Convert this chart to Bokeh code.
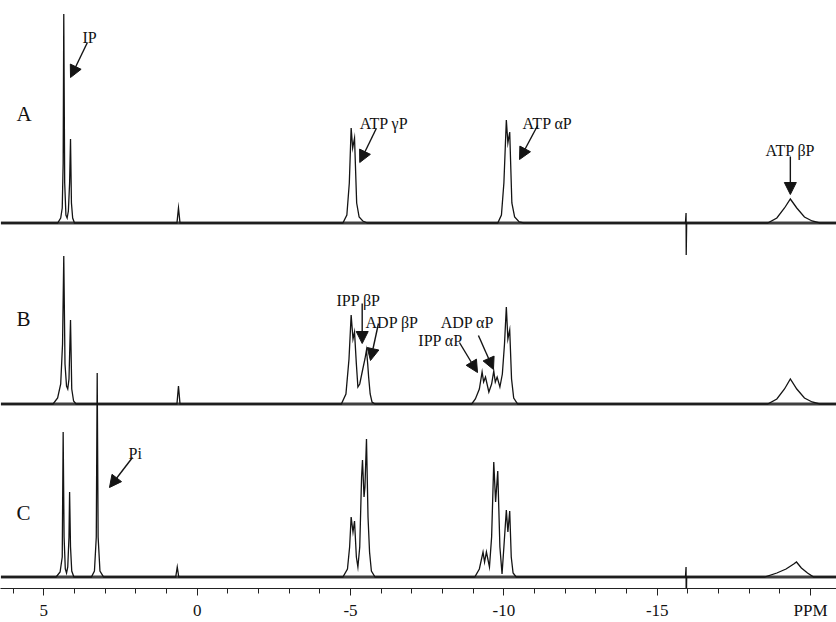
from bokeh.plotting import figure
from bokeh.models import (ColumnDataSource, Range1d, LinearAxis, FixedTicker,
                          Arrow, NormalHead)
from bokeh.core.properties import value
from bokeh.embed import file_html
from bokeh.resources import INLINE

# ---------------- data ----------------
# chemical shift (ppm) and intensity above each trace's baseline
a_ppm = [6.40, 4.55, 4.45, 4.40, 4.37, 4.35, 4.32, 4.28, 4.24, 4.20, 4.16, 4.13, 4.10, 4.06, 4.00,
         0.66, 0.61, 0.56,
         -4.75, -4.88, -4.96, -5.02, -5.07, -5.13, -5.20, -5.28, -5.40, -5.55,
         -9.80, -9.92, -10.00, -10.08, -10.13, -10.19, -10.26, -10.35, -10.50, -10.65,
         -15.92, -15.94, -15.945, -15.96,
         -18.60, -18.90, -19.15, -19.34, -19.55, -19.80, -20.05, -20.30, -20.85]
a_int = [0, 0, 5, 15, 60, 209, 40, 8, 5, 12, 40, 84, 20, 5, 0,
         0, 15, 0,
         0, 8, 40, 95, 75, 85, 20, 6, 2, 0,
         0, 8, 40, 103, 80, 91, 20, 6, 1, 0,
         0, 10, -32, 0,
         0, 5, 15, 24, 15, 6, 2, 0, 0]

b_ppm = [6.40, 4.70, 4.55, 4.45, 4.39, 4.35, 4.31, 4.26, 4.22, 4.18, 4.13, 4.09, 4.03, 3.95,
         0.66, 0.61, 0.56,
         -4.70, -4.85, -4.95, -5.02, -5.08, -5.13, -5.19, -5.24, -5.30, -5.40, -5.47, -5.52,
         -5.56, -5.59, -5.64, -5.70, -5.80,
         -8.95, -9.07, -9.20, -9.29, -9.34, -9.40, -9.51, -9.60, -9.67, -9.72, -9.78, -9.87,
         -9.95, -10.02, -10.08, -10.13, -10.19, -10.25, -10.32, -10.45,
         -18.60, -18.90, -19.15, -19.34, -19.55, -19.80, -20.05, -20.30, -20.85]
b_int = [0, 0, 6, 20, 60, 148, 40, 18, 15, 25, 84, 15, 3, 0,
         0, 18, 0,
         0, 10, 45, 89, 65, 72, 40, 17, 20, 35, 45, 54,
         40, 27, 10, 2, 0,
         0, 5, 15, 32, 22, 27, 12, 20, 33, 22, 27, 17,
         30, 60, 97, 65, 74, 25, 6, 0,
         0, 5, 15, 25, 15, 6, 2, 0, 0]

c_ppm = [6.40, 4.60, 4.47, 4.40, 4.37, 4.34, 4.30, 4.26, 4.22, 4.18, 4.16, 4.13, 4.09, 4.02,
         3.45, 3.35, 3.29, 3.26, 3.23, 3.17, 3.05,
         0.70, 0.65, 0.60,
         -4.75, -4.90, -4.97, -5.02, -5.08, -5.13, -5.19, -5.24, -5.30, -5.36, -5.39, -5.44,
         -5.47, -5.52, -5.57, -5.62, -5.68, -5.80,
         -9.05, -9.20, -9.32, -9.37, -9.43, -9.53, -9.60, -9.67, -9.73, -9.80, -9.87, -9.94,
         -10.00, -10.08, -10.13, -10.19, -10.24, -10.30, -10.40,
         -15.92, -15.94, -15.945, -15.96,
         -18.50, -18.90, -19.20, -19.45, -19.54, -19.70, -19.90, -20.10, -20.85]
c_int = [0, 0, 5, 20, 145, 40, 8, 4, 10, 40, 85, 30, 6, 0,
         0, 6, 40, 204, 40, 6, 0,
         0, 10, 0,
         0, 8, 30, 60, 45, 56, 20, 10, 30, 100, 117, 80,
         90, 138, 60, 25, 6, 0,
         0, 8, 25, 15, 25, 10, 40, 115, 75, 106, 30, 3,
         30, 67, 45, 66, 20, 4, 0,
         0, 10, -32, 0,
         0, 4, 8, 13, 15, 9, 4, 0, 0]

trace_names = ["A", "B", "C"]
peak_labels = ["IP", "ATP γP", "ATP αP", "ATP βP", "IPP βP", "ADP βP", "ADP αP", "IPP αP", "Pi"]
major_ticks = [5, 0, -5, -10, -15, -20]
tick_labels = ["5", "0", "-5", "-10", "-15", "PPM"]
minor_ticks = list(range(6, -21, -1))

# ---------------- layout ----------------
offsets = {"A": 365.5, "B": 184.5, "C": 11.5}
FONT = value("Liberation Serif")
INK = "#141414"

p = figure(width=836, height=622, output_backend="svg", toolbar_location=None,
           x_range=Range1d(6.413, -20.845), y_range=Range1d(0, 588),
           x_axis_type=None, y_axis_type=None, min_border=0)
p.outline_line_color = None
p.background_fill_color = "white"
p.border_fill_color = "white"

for name, xs, ys in (("A", a_ppm, a_int), ("B", b_ppm, b_int), ("C", c_ppm, c_int)):
    off = offsets[name]
    # noisy baseline band
    p.line(x=[xs[0], xs[-1]], y=[off, off], line_color="#2a2a2a", line_width=3.0, line_alpha=0.9)
    src = ColumnDataSource(dict(x=xs, y=[off + v for v in ys]))
    p.line("x", "y", source=src, line_color=INK, line_width=1.3, line_join="miter")

# trace letters
p.text(x=[5.89] * 3, y=[475, 270, 76], text=trace_names, text_font=FONT,
       text_font_size="21px", text_color="#111111", text_align="left",
       text_baseline="alphabetic")

# peak labels
lab_x = [3.74, -5.30, -10.61, -19.34, -4.54, -5.49, -7.94, -7.21, 2.24]
lab_y = [551, 465, 465, 438, 288, 266, 266, 248, 135]
lab_align = ["left", "left", "left", "center", "left", "left", "left", "left", "left"]
p.text(x="x", y="y", text="t", text_align="a",
       source=ColumnDataSource(dict(x=lab_x, y=lab_y, t=peak_labels, a=lab_align)),
       text_font=FONT, text_font_size="16px", text_color="#111111",
       text_baseline="alphabetic")

arrows = ColumnDataSource(dict(
    x0=[3.58, -5.84, -11.10, -19.34, -5.38, -5.91, -8.55, -9.17, 2.11],
    y0=[546, 460, 463, 432, 285, 265, 246, 253, 131],
    x1=[4.13, -5.30, -10.51, -19.34, -5.38, -5.65, -9.14, -9.66, 2.86],
    y1=[511, 426, 429, 394, 245, 228, 216, 219, 101],
))
p.add_layout(Arrow(source=arrows, x_start="x0", y_start="y0", x_end="x1", y_end="y1",
                   line_color=INK, line_width=1.4,
                   end=NormalHead(size=12, fill_color=INK, line_color=INK, line_width=1)))

# axis
xaxis = LinearAxis(ticker=FixedTicker(ticks=major_ticks, minor_ticks=minor_ticks),
                   major_label_overrides=dict(zip(major_ticks, tick_labels)))
xaxis.axis_line_color = "#222222"
xaxis.axis_line_width = 1.2
xaxis.major_tick_line_color = "#222222"
xaxis.minor_tick_line_color = "#222222"
xaxis.major_tick_out = 7
xaxis.major_tick_in = 0
xaxis.minor_tick_out = 5
xaxis.minor_tick_in = 0
xaxis.major_label_standoff = 5
xaxis.major_label_text_font = "Liberation Serif"
xaxis.major_label_text_font_size = "17px"
xaxis.major_label_text_color = "#111111"
p.add_layout(xaxis, "below")

open("out.html", "w").write(file_html(p, INLINE))
